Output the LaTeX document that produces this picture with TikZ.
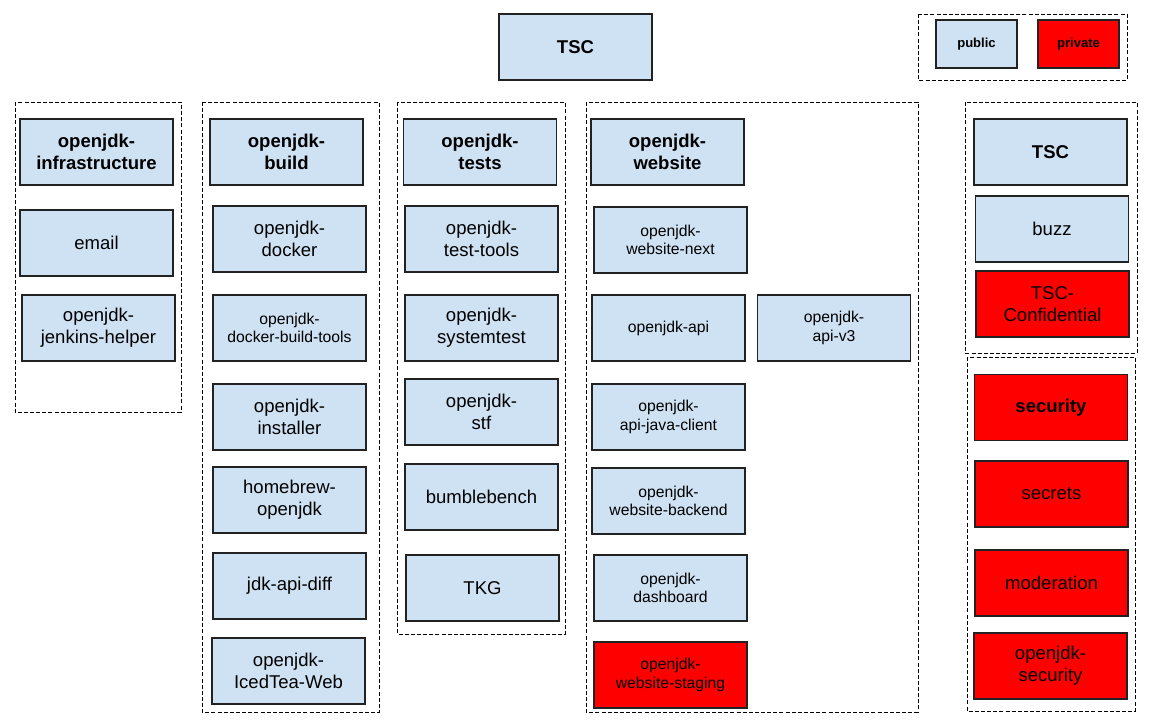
\documentclass[tikz,border=0pt]{standalone}
\usepackage{fontspec}
\setmainfont{Liberation Sans}
\definecolor{pubblue}{HTML}{CFE2F3}
\definecolor{privred}{HTML}{FF0000}
\definecolor{edge}{HTML}{222222}
\tikzset{
  repo/.style={draw=edge, line width=0.8pt, minimum width=114.75pt, minimum height=49.5pt,
    inner sep=0pt, outer sep=0pt, align=center, text=black},
  pub/.style={repo, fill=pubblue},
  priv/.style={repo, fill=privred},
  bigtxt/.style={font=\fontsize{13.9}{16.6}\selectfont},
  smalltxt/.style={font=\fontsize{11.8}{13.9}\selectfont},
  headtxt/.style={font=\fontsize{13.9}{16.4}\selectfont\bfseries},
  legendtxt/.style={font=\fontsize{9.8}{12}\selectfont\bfseries, minimum width=60.75pt, minimum height=36pt},
  grp/.style={draw=black, line width=0.7pt, dash pattern=on 3pt off 1.6pt}
}
\begin{document}
\begin{tikzpicture}[x=0.75pt, y=-0.75pt]
\useasboundingbox (0,0) rectangle (1152,719);

% top TSC and legend
\node[pub, headtxt] (tsc) at (575.5,47) {TSC};
\draw[grp] (918,14) rectangle (1127,80);
\node[pub, legendtxt] (public) at (976.5,44) {public};
\node[priv, legendtxt] (private) at (1078.5,44) {private};

% group 1: infrastructure
\draw[grp] (15,102) rectangle (181,412);
\node[pub, headtxt] (infra) at (96.5,152) {openjdk-\\infrastructure};
\node[pub, bigtxt] (email) at (96.5,243) {email};
\node[pub, bigtxt] (jenkins) at (98.5,328) {openjdk-\\jenkins-helper};

% group 2: build
\draw[grp] (202,102) rectangle (379,712);
\node[pub, headtxt] (build) at (286.5,152) {openjdk-\\build};
\node[pub, bigtxt] (docker) at (289.5,239) {openjdk-\\docker};
\node[pub, smalltxt] (dbt) at (289.5,328) {openjdk-\\docker-build-tools};
\node[pub, bigtxt] (installer) at (289.5,417) {openjdk-\\installer};
\node[pub, bigtxt] (homebrew) at (289.5,500) {homebrew-\\openjdk};
\node[pub, bigtxt] (apidiff) at (289.5,586) {jdk-api-diff};
\node[pub, bigtxt] (icedtea) at (288.5,671) {openjdk-\\IcedTea-Web};

% group 3: tests
\draw[grp] (397,102) rectangle (565,634);
\node[pub, headtxt] (tests) at (480,152) {openjdk-\\tests};
\node[pub, bigtxt] (testtools) at (481.5,239) {openjdk-\\test-tools};
\node[pub, bigtxt] (systemtest) at (481.5,328) {openjdk-\\systemtest};
\node[pub, bigtxt] (stf) at (481.5,412) {openjdk-\\stf};
\node[pub, bigtxt] (bumble) at (481.5,497) {bumblebench};
\node[pub, bigtxt] (tkg) at (482.5,588) {TKG};

% group 4: website
\draw[grp] (586,102) rectangle (918,712);
\node[pub, headtxt] (website) at (667.5,152) {openjdk-\\website};
\node[pub, smalltxt] (wnext) at (670.5,240) {openjdk-\\website-next};
\node[pub, smalltxt] (api) at (668.5,328) {openjdk-api};
\node[pub, smalltxt] (apiv3) at (834,328) {openjdk-\\api-v3};
\node[pub, smalltxt] (javaclient) at (668.5,417) {openjdk-\\api-java-client};
\node[pub, smalltxt] (backend) at (668.5,501) {openjdk-\\website-backend};
\node[pub, smalltxt] (dashboard) at (670.5,588) {openjdk-\\dashboard};
\node[priv, smalltxt] (staging) at (670.5,675) {openjdk-\\website-staging};

% group 5: TSC
\draw[grp] (965,102) rectangle (1137,353);
\node[pub, headtxt] (tsc2) at (1050.5,152) {TSC};
\node[pub, bigtxt] (buzz) at (1052,229) {buzz};
\node[priv, bigtxt] (conf) at (1052.5,304) {TSC-\\Confidential};

% group 6: security
\draw[grp] (967,357) rectangle (1135,711);
\node[priv, headtxt] (security) at (1051,407.5) {security};
\node[priv, bigtxt] (secrets) at (1051.5,494) {secrets};
\node[priv, bigtxt] (moderation) at (1051.5,583) {moderation};
\node[priv, bigtxt] (osec) at (1050.5,666) {openjdk-\\security};
\end{tikzpicture}
\end{document}
